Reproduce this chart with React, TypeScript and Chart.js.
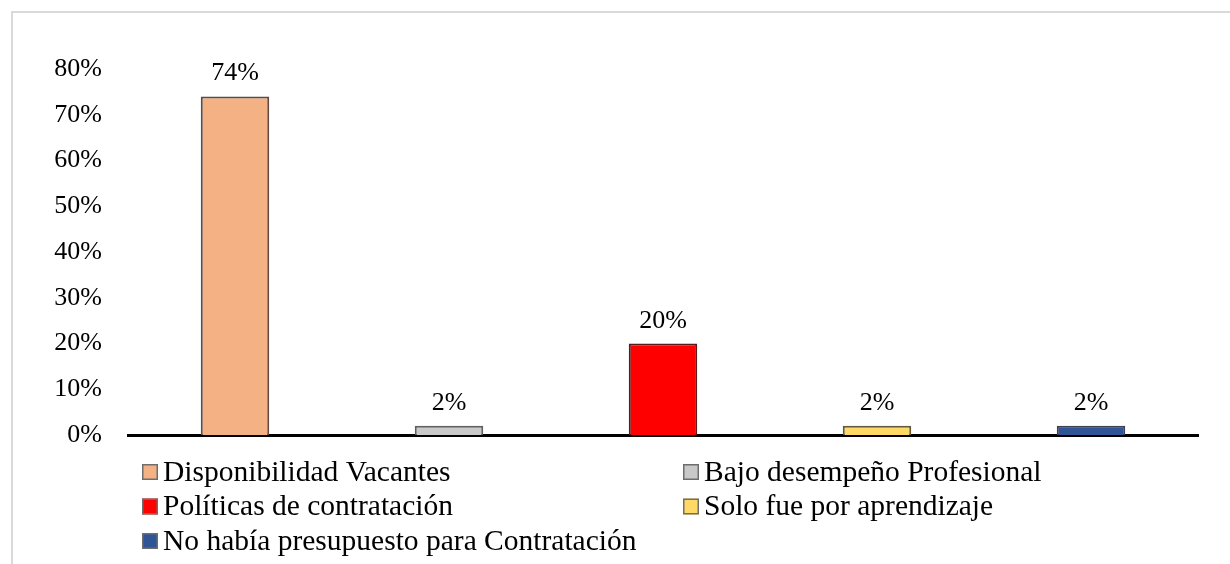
import React, { useEffect, useRef } from "react";
import { Chart, registerables } from "chart.js";

Chart.register(...registerables);

const categories = [
  "Disponibilidad Vacantes",
  "Bajo desempeño Profesional",
  "Políticas de contratación",
  "Solo fue por aprendizaje",
  "No había presupuesto para Contratación",
];
const values = [74, 2, 20, 2, 2];
const yTicks = [0, 10, 20, 30, 40, 50, 60, 70, 80];
const fillColors = ["#F4B183", "#C9C9C9", "#FF0000", "#FFD966", "#2F5597"];
const edgeColors = ["#5e4a40", "#5f5f5f", "#5e1a1a", "#5f5a40", "#40404f"];

const FONT = "'Liberation Serif', 'Times New Roman', serif";

const labelPlugin = {
  id: "valueLabels",
  afterDatasetsDraw(chart: any) {
    const ctx = chart.ctx;
    const meta = chart.getDatasetMeta(0);
    ctx.save();
    ctx.font = `26px ${FONT}`;
    ctx.fillStyle = "#000";
    ctx.textAlign = "center";
    ctx.textBaseline = "alphabetic";
    meta.data.forEach((bar: any, i: number) => {
      ctx.fillText(values[i] + "%", bar.x, bar.y - 16);
    });
    ctx.restore();
  },
};

const legendPlugin = {
  id: "gridLegend",
  afterDraw(chart: any) {
    const ctx = chart.ctx;
    const area = chart.chartArea;
    const colX = [area.left + 14, area.left + 555];
    const top0 = area.bottom + 29;
    const rowH = 34.5;
    const box = 16;
    ctx.save();
    ctx.font = `29.5px ${FONT}`;
    ctx.textBaseline = "middle";
    ctx.textAlign = "left";
    categories.forEach((name, i) => {
      const col = i % 2;
      const row = Math.floor(i / 2);
      const x = colX[col];
      const y = top0 + row * rowH;
      ctx.fillStyle = fillColors[i];
      ctx.fillRect(x, y, box, box);
      ctx.strokeStyle = "#6e6e6e";
      ctx.lineWidth = 1.5;
      ctx.strokeRect(x + 0.75, y + 0.75, box - 1.5, box - 1.5);
      ctx.fillStyle = "#000";
      ctx.fillText(name, x + 21, y + box / 2 + 1);
    });
    ctx.restore();
  },
};

export default function App() {
  const ref = useRef<HTMLCanvasElement | null>(null);
  useEffect(() => {
    document.body.style.overflow = "hidden";
    if (!ref.current) return;
    const chart = new Chart(ref.current, {
      type: "bar",
      data: {
        labels: categories,
        datasets: [
          {
            data: values,
            backgroundColor: fillColors,
            borderColor: edgeColors,
            borderWidth: 2,
            barPercentage: 0.32,
            categoryPercentage: 1,
          },
        ],
      },
      options: {
        responsive: false,
        animation: false,
        devicePixelRatio: 1,
        layout: { padding: { top: 69, right: 32, bottom: 129, left: 0 } },
        plugins: {
          legend: { display: false },
          tooltip: { enabled: false },
        },
        scales: {
          x: {
            ticks: { display: false },
            grid: { display: false, drawTicks: false },
            border: { display: true, color: "#000", width: 3 },
            afterFit: (s: any) => {
              s.height = 0;
            },
          },
          y: {
            min: 0,
            max: 80,
            afterBuildTicks: (s: any) => {
              s.ticks = yTicks.map((v) => ({ value: v }));
            },
            ticks: {
              color: "#000",
              padding: 26,
              font: { family: FONT, size: 26 },
              callback: (v: any) => v + "%",
            },
            grid: { display: false, drawTicks: false },
            border: { display: false },
            afterFit: (s: any) => {
              s.width = 128;
            },
          },
        },
      },
      plugins: [labelPlugin, legendPlugin],
    });
    return () => chart.destroy();
  }, []);

  return (
    <div>
      <div
        style={{
          position: "absolute",
          left: 11,
          top: 11,
          width: 1230 - 13,
          height: 564 - 13,
          borderTop: "2px solid #d9d9d9",
          borderLeft: "2px solid #d9d9d9",
        }}
      />
      <canvas
        ref={ref}
        width={1230}
        height={564}
        style={{ position: "absolute", left: 0, top: 0, width: 1230, height: 564 }}
      />
    </div>
  );
}
